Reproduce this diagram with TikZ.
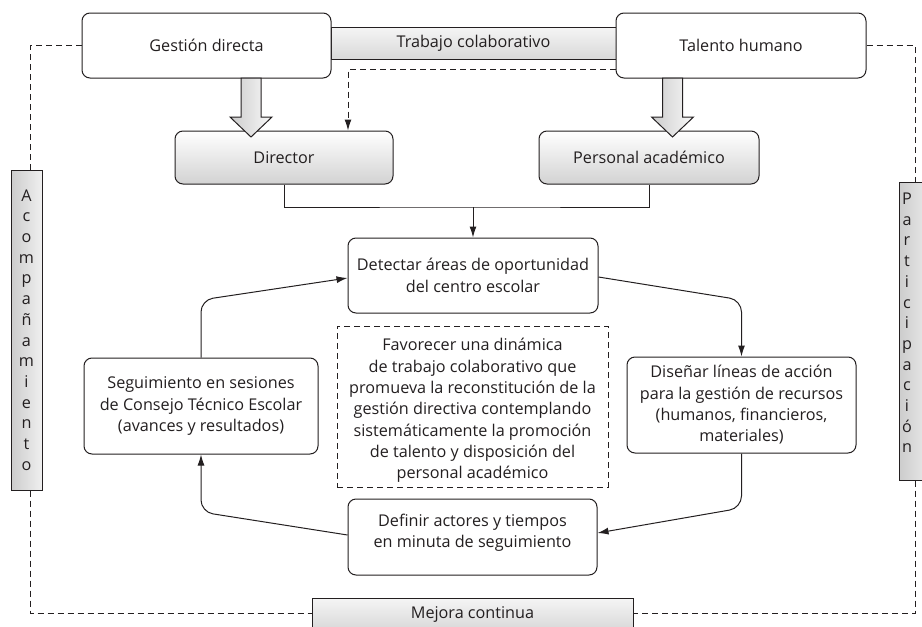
\documentclass[tikz,border=0pt]{standalone}
\usepackage{fontspec}
\setmainfont{Open Sans}
\usetikzlibrary{arrows.meta,calc}
\definecolor{ink}{HTML}{231F20}
\begin{document}
\begin{tikzpicture}[x=1pt,y=-1pt,
  every node/.style={font=\fontsize{16.2}{21.3}\selectfont, text=ink, align=center, inner sep=0pt},
  wbox/.style={draw=ink, line width=1pt, rounded corners=8pt, fill=white},
  gbox/.style={draw=ink, line width=1pt, rounded corners=8pt, top color=white, bottom color=gray!35},
  bar/.style={draw=ink, line width=1pt, top color=gray!8, bottom color=gray!30},
  sidebox/.style={draw=ink, line width=1pt, left color=gray!40, right color=gray!12},
  dbox/.style={draw=ink, line width=1pt, dash pattern=on 6pt off 4pt},
  frame/.style={draw=ink, line width=1pt, dash pattern=on 6pt off 4pt},
  conn/.style={draw=ink, line width=1pt, -{Latex[length=11pt,width=7pt]}},
  fat/.style={draw=ink, line width=1pt, left color=gray!40, right color=gray!5},
  letters/.style={font=\fontsize{16.2}{20.7}\selectfont}
]
\useasboundingbox (0,0) rectangle (922,627);

% background bars
\node[bar, minimum width=285pt, minimum height=32pt] (tc) at (473.5,43) {Trabajo colaborativo};
\node[bar, minimum width=321pt, minimum height=32pt] (mej) at (472.5,614) {Mejora continua};

% top boxes
\node[wbox, minimum width=249pt, minimum height=65pt] (gd) at (206.5,45.5) {Gestión directa};
\node[wbox, minimum width=250pt, minimum height=65pt] (th) at (741,45.5) {Talento humano};

% second row
\node[gbox, minimum width=218pt, minimum height=53pt] (dir) at (284,157.5) {Director};
\node[gbox, minimum width=220pt, minimum height=53pt] (pa) at (649,157.5) {Personal académico};

% fat arrows
\coordinate (fa1) at (251,78);
\coordinate (fa2) at (672.5,78);
\foreach \c in {fa1,fa2}{
  \path[fat] ($(\c)+(-10,0)$) -- ++(0,39) -- ++(-11,0) -- ($(\c)+(0,59)$) -- ($(\c)+(21,39)$) -- ++(-11,0) -- ($(\c)+(10,0)$) -- cycle;
}

% cycle boxes
\node[wbox, minimum width=250pt, minimum height=75pt] (det) at (473,275.5) {Detectar áreas de oportunidad\\del centro escolar};
\node[dbox, minimum width=271pt, minimum height=161pt] (fav) at (472.5,406.5) {};
\node (favT) at (472.5,410.5) {Favorecer una dinámica\\de trabajo colaborativo que\\promueva la reconstitución de la\\gestión directiva contemplando\\sistemáticamente la promoción\\de talento y disposición del\\personal académico};
\node[wbox, minimum width=234pt, minimum height=96pt] (seg) at (201,406) {Seguimiento en sesiones\\de Consejo Técnico Escolar\\(avances y resultados)};
\node[wbox, minimum width=229pt, minimum height=96pt] (dis) at (741.5,405) {Diseñar líneas de acción\\para la gestión de recursos\\(humanos, financieros,\\materiales)};
\node[wbox, minimum width=249pt, minimum height=76pt] (def) at (472.5,537) {};
\node (defT) at (472.5,533) {Definir actores y tiempos\\en minuta de seguimiento};

% side boxes
\node[sidebox, minimum width=31pt, minimum height=320pt] (aco) at (26.5,330) {};
\node[letters] (acoT) at (26.5,330) {A\\c\\o\\m\\p\\a\\ñ\\a\\m\\i\\e\\n\\t\\o};
\node[sidebox, minimum width=36pt, minimum height=298pt] (par) at (917,331) {};
\node[letters] (parT) at (907,323) {P\\a\\r\\t\\i\\c\\i\\p\\a\\c\\i\\ó\\n};

% dashed frame
\coordinate (c1) at (30,45.5);
\coordinate (c2) at (30,613);
\coordinate (c3) at (915,45.5);
\coordinate (c4) at (915,613);
\draw[frame] (gd.west) -- (c1) -- (aco.north -| c1);
\draw[frame] (aco.south -| c1) -- (c2) -- (mej.west |- c2);
\draw[frame] (th.east) -- (c3) -- (par.north -| c3);
\draw[frame] (par.south -| c3) -- (c4) -- (mej.east |- c4);

% dashed arrow
\coordinate (da) at (348,69);
\draw[conn, dash pattern=on 6pt off 4pt] (th.west |- da) -- (da) -- (da |- dir.north);

% join
\coordinate (j) at (473,207);
\draw[draw=ink, line width=1pt] (dir.south) |- (j) -| (pa.south);
\draw[conn] (j) -- (det.north);

% cycle
\coordinate (k1) at (201,300);
\coordinate (k2) at (741.5,300);
\coordinate (k3) at (741.5,508);
\coordinate (k4) at (201,512);
\draw[conn, rounded corners=12pt] (seg.north) -- (k1) -- ([yshift=-2.5pt]det.west);
\draw[conn, rounded corners=12pt] ([yshift=-1.5pt]det.east) -- (k2) -- (dis.north);
\draw[conn, rounded corners=12pt] (dis.south) -- (k3) -- ([yshift=4pt]def.east);
\draw[conn, rounded corners=12pt] ([yshift=2pt]def.west) -- (k4) -- (seg.south);
\end{tikzpicture}
\end{document}
